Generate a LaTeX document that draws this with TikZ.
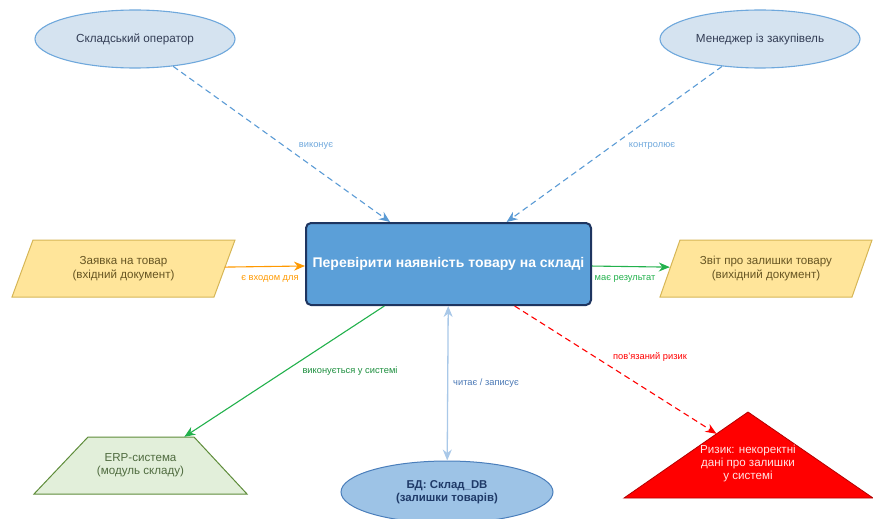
\documentclass[tikz,border=0pt]{standalone}
\usepackage{fontspec}
\setmainfont{Liberation Sans}
\usetikzlibrary{shapes.geometric,arrows.meta,calc}
\definecolor{actfill}{HTML}{D5E3F0}
\definecolor{actdraw}{HTML}{6FA8DC}
\definecolor{acttext}{HTML}{333D55}
\definecolor{procfill}{HTML}{5B9FD8}
\definecolor{procdraw}{HTML}{1E3560}
\definecolor{docfill}{HTML}{FFE59A}
\definecolor{docdraw}{HTML}{D6B656}
\definecolor{doctext}{HTML}{665522}
\definecolor{erpfill}{HTML}{E2EFDA}
\definecolor{erpdraw}{HTML}{5E8C3A}
\definecolor{erptext}{HTML}{4F6B3F}
\definecolor{dbfill}{HTML}{9DC3E6}
\definecolor{dbdraw}{HTML}{4A7EBB}
\definecolor{dbtext}{HTML}{1F3A68}
\definecolor{dashblue}{HTML}{5B9BD5}
\definecolor{lblblue}{HTML}{6FA8DC}
\definecolor{orng}{HTML}{FF9900}
\definecolor{grn}{HTML}{22B14C}
\definecolor{dbline}{HTML}{A9C8E8}
\definecolor{dblbl}{HTML}{4A78B5}
\definecolor{riskred}{HTML}{FF0000}
\definecolor{riskdraw}{HTML}{B30000}
\definecolor{risktext}{HTML}{FFE4E4}
\tikzset{
  actor/.style={ellipse, draw=actdraw, fill=actfill, line width=1.1pt, minimum width=200, minimum height=58, inner sep=0pt, text=acttext, font=\fontsize{11.7}{14}\selectfont},
  procbox/.style={rectangle, rounded corners=5pt, draw=procdraw, fill=procfill, line width=2pt, minimum width=285, minimum height=82, inner sep=0pt, text=white, font=\bfseries\fontsize{14}{16}\selectfont},
  docshape/.style={draw=docdraw, fill=docfill, line width=1pt},
  doclabel/.style={rectangle, inner sep=0pt, minimum height=57, align=center, text=doctext, font=\fontsize{11.6}{13.5}\selectfont},
  erpshape/.style={draw=erpdraw, fill=erpfill, line width=1pt},
  erplabel/.style={rectangle, inner sep=0pt, minimum width=213, minimum height=57, align=center, text=erptext, font=\fontsize{11.6}{13}\selectfont},
  dbnode/.style={ellipse, draw=dbdraw, fill=dbfill, line width=1pt, minimum width=212, minimum height=62, inner sep=0pt, align=center, text=dbtext, font=\bfseries\fontsize{11.4}{13.5}\selectfont},
  riskshape/.style={draw=riskdraw, fill=riskred, line width=0.8pt},
  risklabel/.style={inner sep=0pt, align=center, text=risktext, font=\fontsize{11.6}{13}\selectfont},
  tip/.style={-{Stealth[length=11pt,width=9pt]}},
  dashconn/.style={tip, draw=dashblue, line width=1.1pt, dash pattern=on 6pt off 4pt},
  edgelbl/.style={inner sep=1pt, font=\fontsize{9.3}{11}\selectfont}
}
\begin{document}
\begin{tikzpicture}[x=1pt,y=-1pt]
\useasboundingbox (0,0) rectangle (873,519);
% actors
\node[actor] (op) at (135,39) {Складський оператор};
\node[actor] (mgr) at (760,39) {Менеджер із закупівель};
% process
\node[procbox] (proc) at (448.5,264) {Перевірити наявність товару на складі};
% input document
\draw[docshape] (12,297) -- (33,240) -- (235,240) -- (214,297) -- cycle;
\node[doclabel, minimum width=202] (in) at (123.5,268.5) {Заявка на товар\\(вхідний документ)};
% output document
\draw[docshape] (660,297) -- (680,240) -- (872,240) -- (852,297) -- cycle;
\node[doclabel, minimum width=192] (out) at (766,268.5) {Звіт про залишки товару\\(вихідний документ)};
% ERP
\draw[erpshape] (34,494) -- (88,437) -- (194,437) -- (247,494) -- cycle;
\node[erplabel] (erp) at (140.5,465.5) {ERP-система\\(модуль складу)};
% DB
\node[dbnode] (db) at (447,492) {БД: Склад\_DB\\(залишки товарів)};
% risk
\draw[riskshape] (624,498) -- (748,412) -- (873,498) -- cycle;
\node[risklabel] (risk) at (748,463) {Ризик: некоректні\\дані про залишки\\у системі};
\coordinate (riskhit) at (716.5,433.8);
% connectors
\draw[dashconn] (op) -- (proc);
\draw[dashconn] (mgr) -- (proc);
\draw[tip, draw=orng, line width=1.1pt] (in) -- (proc);
\draw[tip, draw=grn, line width=1.1pt] (proc) -- (out);
\draw[tip, draw=grn, line width=1.1pt] (proc) -- (erp);
\draw[{Stealth[length=11pt,width=9pt]}-{Stealth[length=11pt,width=9pt]}, draw=dbline, line width=1.3pt] (proc) -- (db);
\draw[tip, draw=riskred, line width=1.1pt, dash pattern=on 6pt off 4pt] (proc) -- (riskhit);
% labels
\node[edgelbl, text=lblblue] (lexec) at (316,146) {виконує};
\node[edgelbl, text=lblblue] (lctrl) at (652,146) {контролює};
\node[edgelbl, text=orng] (linput) at (270,279) {є входом для};
\node[edgelbl, text=grn] (lresult) at (625,279) {має результат};
\node[edgelbl, text=grn!80!black] (lsys) at (350,371) {виконується у системі};
\node[edgelbl, text=dblbl] (lrw) at (486,383) {читає / записує};
\node[edgelbl, text=riskred] (lrisk) at (650,357) {пов'язаний ризик};
\end{tikzpicture}
\end{document}
